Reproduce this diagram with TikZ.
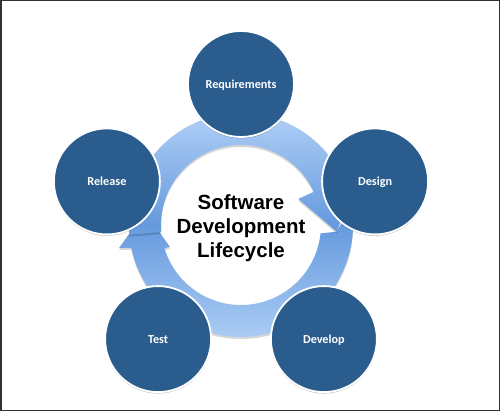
\documentclass[tikz,border=0pt]{standalone}
\usepackage{fontspec}
\newfontfamily\phasefont{Carlito}
\newfontfamily\titlefont{Liberation Sans}
\usetikzlibrary{shadows}
\definecolor{phasefill}{RGB}{42,92,142}
\definecolor{ringtop}{RGB}{178,209,247}
\definecolor{ringmid}{RGB}{102,154,222}
\definecolor{ringbot}{RGB}{172,205,245}
\definecolor{framecol}{RGB}{50,50,50}
\begin{document}
\begin{tikzpicture}[x=1pt,y=-1pt,
  phase/.style={circle, minimum size=106pt, inner sep=0pt, fill=phasefill,
    draw=white, line width=1.8pt, text=white,
    font=\phasefont\bfseries\fontsize{12.2}{14}\selectfont,
    text height=8.1pt, text depth=0pt,
    drop shadow={shadow xshift=0pt, shadow yshift=-1.5pt, opacity=0.22, fill=black}},
  ringshadow/.style={fill=black, opacity=0.16},
  ringshade/.style={top color=ringtop, bottom color=ringbot, middle color=ringmid},
  arrowone/.style={insert path={(175:112) arc[start angle=175, end angle=335.5, radius=112]
    -- (335.5:129) -- (364:96) -- (335.5:63) -- (335.5:80)
    arc[start angle=335.5, end angle=175, radius=80] -- cycle}},
  arrowtwo/.style={insert path={(4:96) -- (-10:112) arc[start angle=-10, end angle=168.2, radius=112]
    -- (-122,23) -- (-96,-13) -- (-71,22) -- (163.3:80)
    arc[start angle=163.3, end angle=6, radius=80] -- cycle}},
]
\fill[white] (0,0) rectangle (500,411);
\useasboundingbox (0,0) rectangle (500,411);

% ring of two circular arrows
\begin{scope}[shift={(241,225)}]
  \fill[ringshadow, shift={(0,2)}, arrowtwo];
  \begin{scope}
    \clip[arrowtwo];
    \shade[ringshade] (-135,-115) rectangle (135,115);
  \end{scope}
  \fill[ringshadow, shift={(0,2)}, arrowone];
  \begin{scope}
    \clip[arrowone];
    \shade[ringshade] (-135,-115) rectangle (135,115);
  \end{scope}
\end{scope}

% centre title
\node[font=\titlefont\bfseries\fontsize{20.5}{24}\selectfont, align=center, text=black]
  (title) at (241,228.6) {Software\\Development\\Lifecycle};

% phases
\node[phase] (req) at (241,84) {Requirements};
\node[phase] (design) at (375.1,181.4) {Design};
\node[phase] (develop) at (323.9,339.1) {Develop};
\node[phase] (test) at (158.1,339.1) {Test};
\node[phase] (release) at (106.9,181.4) {Release};

% frame
\draw[framecol, line width=1.5pt] (0.75,0.75) rectangle (499.25,410.25);
\end{tikzpicture}
\end{document}
